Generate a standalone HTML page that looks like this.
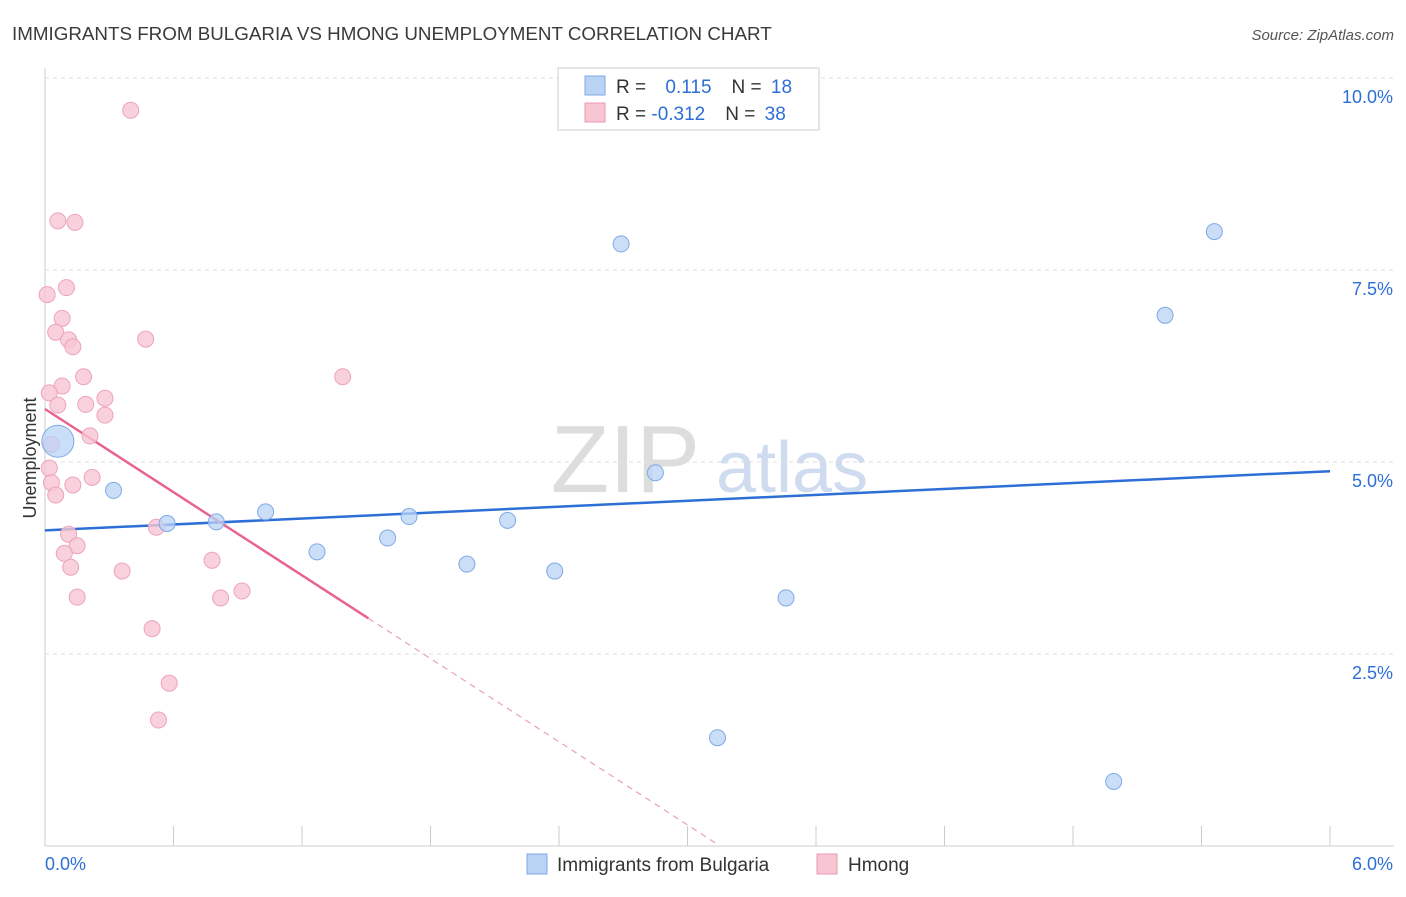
<!DOCTYPE html>
<html><head><meta charset="utf-8">
<style>
body{margin:0;background:#fff;font-family:"Liberation Sans",sans-serif;}
svg text{font-family:"Liberation Sans",sans-serif;}
</style></head>
<body>
<svg id="chart" width="1406" height="892">
<text x="12" y="40" font-size="18.8" fill="#3a3a3a">IMMIGRANTS FROM BULGARIA VS HMONG UNEMPLOYMENT CORRELATION CHART</text>
<text x="1394" y="40" font-size="15" fill="#555" font-style="italic" text-anchor="end">Source: ZipAtlas.com</text>
<text x="36" y="458" font-size="18" fill="#333" transform="rotate(-90 36 458)" text-anchor="middle">Unemployment</text>
<text x="700" y="492" font-size="96" fill="#ddd" text-anchor="end" font-family="Liberation Serif">ZIP</text>
<text x="716" y="492" font-size="72" fill="#cfdcf0">atlas</text>
<g id="grid"></g><g id="lines"></g><g id="pts"></g>
<g>
<rect x="558" y="68" width="261" height="62" fill="#fff" stroke="#ccc"/>
<rect x="585" y="76" width="20" height="19" fill="#b9d3f5" stroke="#7fa9e6"/>
<rect x="585" y="103" width="20" height="19" fill="#f8c5d3" stroke="#ee9ab2"/>
<text x="616" y="93" font-size="19" fill="#333">R = <tspan fill="#2d6fd6" dx="14">0.115</tspan><tspan fill="#333" dx="20">N = </tspan><tspan fill="#2d6fd6" dx="4">18</tspan></text>
<text x="616" y="120" font-size="19" fill="#333">R = <tspan fill="#2d6fd6">-0.312</tspan><tspan fill="#333" dx="20">N = </tspan><tspan fill="#2d6fd6" dx="4">38</tspan></text>
</g>
<g>
<rect x="527" y="854" width="20" height="20" fill="#b9d3f5" stroke="#7fa9e6"/>
<text x="557" y="871" font-size="19" fill="#333">Immigrants from Bulgaria</text>
<rect x="817" y="854" width="20" height="20" fill="#f8c5d3" stroke="#ee9ab2"/>
<text x="848" y="871" font-size="19" fill="#333">Hmong</text>
</g>
</svg>
<script>
const yTicks=[2.5,5.0,7.5,10.0];
const xTickLabels=["0.0%","6.0%"];
const blueX=[0.06,0.32,0.57,0.80,1.03,1.27,1.60,1.70,1.97,2.16,2.38,2.69,2.85,3.14,3.46,4.99,5.23,5.46];
const blueY=[5.27,4.63,4.20,4.22,4.35,3.83,4.01,4.29,3.67,4.24,3.58,7.84,4.86,1.41,3.23,0.84,6.91,8.00];
const pinkX=[0.40,0.06,0.14,0.01,0.10,0.08,0.05,0.11,0.13,0.47,0.18,1.39,0.08,0.02,0.06,0.19,0.28,0.28,0.21,0.03,0.02,0.03,0.05,0.13,0.22,0.11,0.52,0.15,0.09,0.12,0.36,0.78,0.15,0.92,0.82,0.50,0.58,0.53];
const pinkY=[9.58,8.14,8.12,7.18,7.27,6.87,6.69,6.59,6.50,6.60,6.11,6.11,5.99,5.90,5.74,5.75,5.83,5.61,5.34,5.23,4.92,4.73,4.57,4.70,4.80,4.06,4.15,3.91,3.81,3.63,3.58,3.72,3.24,3.32,3.23,2.83,2.12,1.64];
const blueFit=[4.11,4.88];
const pinkFit=[5.69,0.04];
const NS="http://www.w3.org/2000/svg";
const X=v=>45+v/6*1285, Y=v=>846-v*76.8;
function mk(tag,attrs,parent){const e=document.createElementNS(NS,tag);for(const k in attrs)e.setAttribute(k,attrs[k]);document.getElementById(parent).appendChild(e);return e;}
for(const t of yTicks){
 const l=mk('line',{x1:45,x2:1394,y1:Y(t),y2:Y(t),stroke:'#ddd','stroke-dasharray':'4,4'},'grid');
 
 
 const tx=mk('text',{x:1393,y:Y(t)+25,'font-size':18,fill:'#2d6fd6','text-anchor':'end'},'grid');
 tx.textContent=t.toFixed(1)+'%';
 
 
}
mk('line',{x1:45,x2:1394,y1:846,y2:846,stroke:'#ccc'},'grid');
mk('line',{x1:45,x2:45,y1:68,y2:846,stroke:'#ccc'},'grid');
for(let i=0;i<=10;i++){mk('line',{x1:X(i*0.6),x2:X(i*0.6),y1:826,y2:846,stroke:'#ccc'},'grid');}
const xl0=mk('text',{x:45,y:870,'font-size':18,fill:'#2d6fd6'},'grid');xl0.textContent=xTickLabels[0];


const xl1=mk('text',{x:1393,y:870,'font-size':18,fill:'#2d6fd6','text-anchor':'end'},'grid');xl1.textContent=xTickLabels[1];


const bl=mk('line',{x1:X(0),y1:Y(blueFit[0]),x2:X(6),y2:Y(blueFit[1]),stroke:'#2d6fd6','stroke-width':2.5},'lines');


const pm=(x)=>pinkFit[0]+(pinkFit[1]-pinkFit[0])*x/3.13;
const pl=mk('line',{x1:X(0),y1:Y(pm(0)),x2:X(1.51),y2:Y(pm(1.51)),stroke:'#e8648f','stroke-width':2.5},'lines');


const pd=mk('line',{x1:X(1.51),y1:Y(pm(1.51)),x2:X(3.13),y2:Y(pm(3.13)),stroke:'#eaa0b8','stroke-width':1.2,'stroke-dasharray':'6,5'},'lines');


pinkX.forEach((v,i)=>{const c=mk('circle',{cx:X(v),cy:Y(pinkY[i]),r:8,fill:'#f8c5d3','fill-opacity':0.8,stroke:'#eea3ba'},'pts');

});
blueX.forEach((v,i)=>{const c=mk('circle',{cx:X(v),cy:Y(blueY[i]),r:i==0?16:8,fill:'#b9d3f5','fill-opacity':0.75,stroke:'#7fa9e6'},'pts');

});
</script>
</body></html>
